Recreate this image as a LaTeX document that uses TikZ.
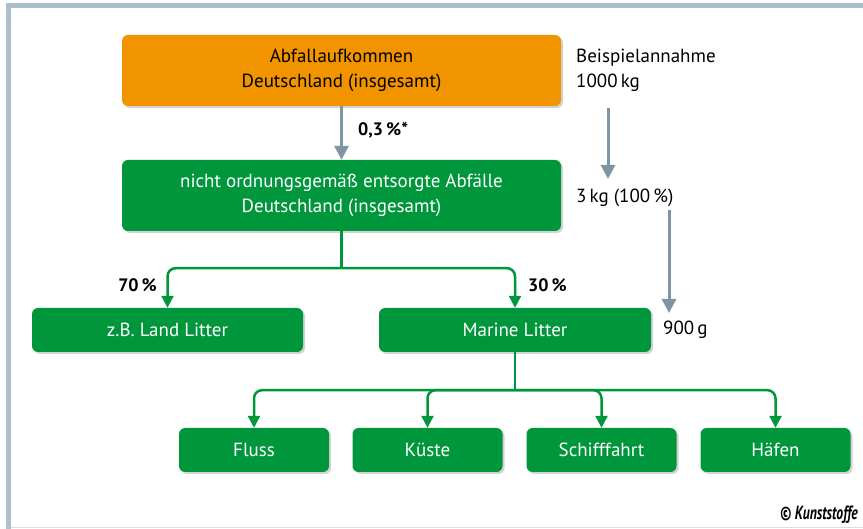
\documentclass[tikz,border=0pt]{standalone}
\usepackage{fontspec}
\setmainfont{PT Sans}
\usepackage{tikz}
\usetikzlibrary{positioning}
\usetikzlibrary{arrows.meta}
\usetikzlibrary{shadows}
\usetikzlibrary{calc}

\definecolor{kgreen}{RGB}{0,150,60}
\definecolor{korange}{RGB}{242,148,0}
\definecolor{kgray}{RGB}{127,149,163}
\definecolor{kframe}{RGB}{172,192,204}

\tikzset{
	box/.style={rounded corners=6pt, align=center, inner sep=0pt,
		drop shadow={shadow xshift=2pt, shadow yshift=-2pt, opacity=0.35},
		font=\fontsize{19}{25}\selectfont},
	greenbox/.style={box, fill=kgreen, text=white},
	orangebox/.style={box, fill=korange, text=black},
	txt/.style={font=\fontsize{19}{25}\selectfont, inner sep=0pt},
	pct/.style={txt, font=\fontsize{18}{25}\selectfont\bfseries},
	garrow/.style={draw=kgreen, line width=2.5pt, rounded corners=8pt,
		-{Triangle[width=12pt,length=12pt]}},
	gline/.style={draw=kgreen, line width=2.5pt},
	grayarrow/.style={draw=kgray, line width=3pt,
		-{Triangle[width=14pt,length=14pt]}}
}

\begin{document}
\begin{tikzpicture}[x=1pt, y=-1pt]
\useasboundingbox (0,0) rectangle (863,529);

% frame
\fill[kframe] (6,3) rectangle (863,8);
\fill[kframe] (6,3) rectangle (11,529);
\draw[kframe!50, line width=1pt] (11,527.5) -- (863,527.5);

% boxes
\node[orangebox, minimum width=439pt, minimum height=71pt] (abfall) at (341.5,70.5)
	{Abfallaufkommen\\Deutschland (insgesamt)};
\node[greenbox, minimum width=439pt, minimum height=71pt] (nicht) at (341.5,195.5)
	{nicht ordnungsgemäß entsorgte Abfälle\\Deutschland (insgesamt)};
\node[greenbox, minimum width=271pt, minimum height=44pt] (land) at (167.5,330)
	{z.B. Land Litter};
\node[greenbox, minimum width=272pt, minimum height=44pt] (marine) at (515,330)
	{Marine Litter};
\node[greenbox, minimum width=150pt, minimum height=44pt] (fluss) at (254,450) {Fluss};
\node[greenbox, minimum width=150pt, minimum height=44pt] (kueste) at (427.5,450) {Küste};
\node[greenbox, minimum width=150pt, minimum height=44pt] (schiff) at (601.5,450) {Schifffahrt};
\node[greenbox, minimum width=150pt, minimum height=44pt] (haefen) at (775.5,450) {Häfen};

% labels
\node[pct, anchor=west] (proz03) at (358,130) {0,3\,\%*};
\node[pct, anchor=east] (proz70) at (157,285) {70\,\%};
\node[pct, anchor=west] (proz30) at (528,285) {30\,\%};
\node[txt, anchor=west, align=left] (beispiel) at (576,70) {Beispielannahme\\1000\,kg};
\node[txt, anchor=west] (dreikg) at (576,198) {3\,kg (100\,\%)};
\node[txt, anchor=west] (neunhundert) at (663,330) {900\,g};
\node[inner sep=0pt, anchor=east, font=\fontsize{19}{20}\selectfont\bfseries\itshape]
	(copy) at (858,515) {\scalebox{0.72}[1]{© Kunststoffe}};

% gray arrows
\coordinate (g1a) at (608,108);
\coordinate (g1b) at (608,179);
\coordinate (g2a) at (669,210);
\coordinate (g2b) at (669,313);
\draw[grayarrow] (abfall.south) -- (nicht.north);
\draw[grayarrow] (g1a) -- (g1b);
\draw[grayarrow] (g2a) -- (g2b);

% green tree
\coordinate (j1) at ($(nicht.south)+(0,37)$);
\draw[gline] (nicht.south) -- (j1);
\draw[garrow] (j1) -| (land.north);
\draw[garrow] (j1) -| (marine.north);

\coordinate (j2) at ($(marine.south)+(0,38)$);
\draw[gline] (marine.south) -- (j2);
\draw[garrow] (j2) -| (fluss.north);
\draw[garrow] (j2) -| (kueste.north);
\draw[garrow] (j2) -| (schiff.north);
\draw[garrow] (j2) -| (haefen.north);
\end{tikzpicture}
\end{document}
